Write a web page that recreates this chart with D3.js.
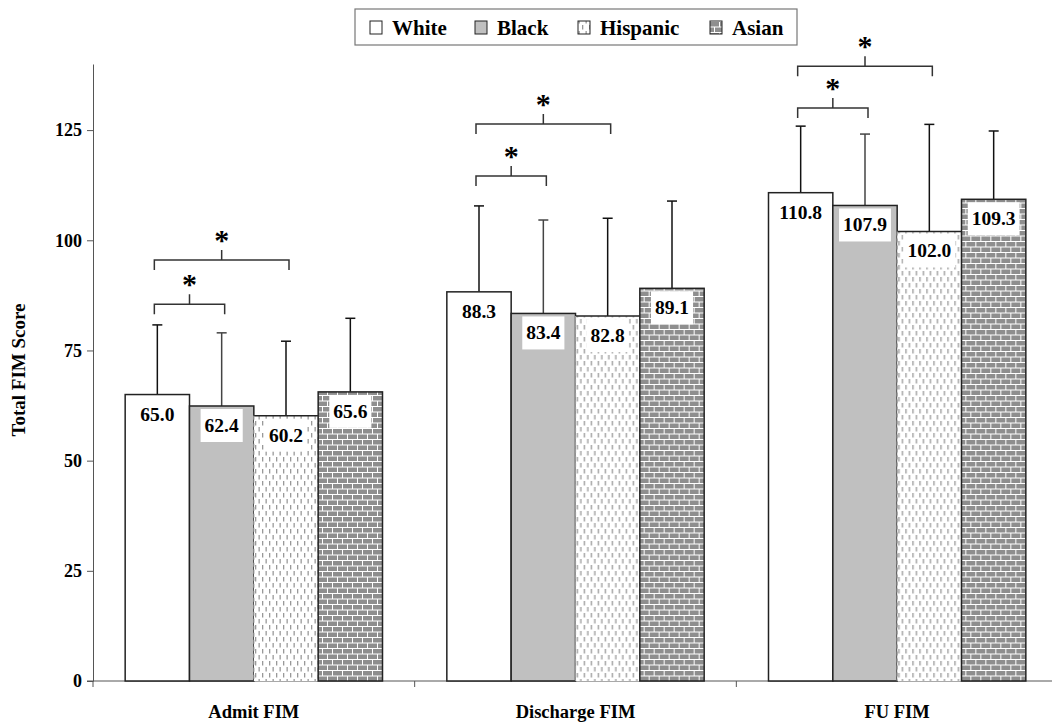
<!DOCTYPE html>
<html><head><meta charset="utf-8">
<script src="https://cdn.jsdelivr.net/npm/d3@7"></script>
<style>
body{margin:0;background:#fff;}
text{font-family:"Liberation Serif","Times New Roman",serif;font-weight:bold;}
</style></head>
<body><svg id="chart" width="1052" height="725"></svg>
<script>
const categories = ["Admit FIM", "Discharge FIM", "FU FIM"];
const series = ["White", "Black", "Hispanic", "Asian"];
const means = {
  White:    [65.0, 88.3, 110.8],
  Black:    [62.4, 83.4, 107.9],
  Hispanic: [60.2, 82.8, 102.0],
  Asian:    [65.6, 89.1, 109.3]
};
const sds = {
  White:    [15.8, 19.5, 15.1],
  Black:    [16.6, 21.2, 16.2],
  Hispanic: [16.9, 22.2, 24.3],
  Asian:    [16.7, 19.8, 15.5]
};
const yTicks = [0, 25, 50, 75, 100, 125];
// significance brackets: category index, from series, to series, level (data units)
const brackets = [
  {cat: 0, a: "White", b: "Black", level: 85.5},
  {cat: 0, a: "White", b: "Hispanic", level: 95.5},
  {cat: 1, a: "White", b: "Black", level: 114.6},
  {cat: 1, a: "White", b: "Hispanic", level: 126.4},
  {cat: 2, a: "White", b: "Black", level: 130.0},
  {cat: 2, a: "White", b: "Hispanic", level: 139.5}
];

const svg = d3.select("#chart");
const defs = svg.append("defs");

// Hispanic pattern: dashes
const ph = defs.append("pattern").attr("id","hisp").attr("patternUnits","userSpaceOnUse")
  .attr("width",7).attr("height",12);
ph.append("rect").attr("width",7).attr("height",12).attr("fill","#fff");
ph.append("rect").attr("x",1).attr("y",1).attr("width",1.3).attr("height",4.5).attr("fill","#999");
ph.append("rect").attr("x",4.5).attr("y",7).attr("width",1.3).attr("height",4.5).attr("fill","#999");

// Asian pattern: bricks
const pa = defs.append("pattern").attr("id","asian").attr("patternUnits","userSpaceOnUse")
  .attr("width",10).attr("height",11);
pa.append("rect").attr("width",10).attr("height",11).attr("fill","#fff");
pa.append("rect").attr("x",0).attr("y",0).attr("width",9).attr("height",4.5).attr("fill","#8e8e8e");
pa.append("rect").attr("x",-5).attr("y",5.5).attr("width",9).attr("height",4.5).attr("fill","#8e8e8e");
pa.append("rect").attr("x",5).attr("y",5.5).attr("width",9).attr("height",4.5).attr("fill","#8e8e8e");

const fills = {White:"#fff", Black:"#c0c0c0", Hispanic:"url(#hisp)", Asian:"url(#asian)"};

const y = d3.scaleLinear().domain([0,140]).range([681,64]);
const x0 = d3.scaleBand().domain(categories).range([93,1058]).padding(0);
const bw = x0.bandwidth();
const x1 = d3.scaleBand().domain(series).range([bw*0.1, bw*0.9]).padding(0);

// Y axis
const yAxis = svg.append("g").attr("transform","translate(93,0)")
  .call(d3.axisLeft(y).tickValues(yTicks).tickSize(6).tickSizeOuter(0).tickFormat(d3.format("d")));
yAxis.select(".domain").attr("stroke","#555");
yAxis.selectAll(".tick line").attr("stroke","#555");
yAxis.selectAll("text").attr("font-size",18).attr("fill","#000").attr("dx",-2);

// X axis
const xa = svg.append("g");
xa.append("line").attr("x1",87).attr("x2",1052).attr("y1",y(0)).attr("y2",y(0)).attr("stroke","#555");
categories.forEach((c,i)=>{
  xa.append("line").attr("x1",x0(c)).attr("x2",x0(c)).attr("y1",y(0)).attr("y2",y(0)+6).attr("stroke","#555");
  xa.append("text").attr("x",x0(c)+bw/2).attr("y",718).attr("text-anchor","middle")
    .attr("font-size",18.5).text(c);
});

// y title
svg.append("text").attr("transform","translate(25,370) rotate(-90)").attr("text-anchor","middle")
  .attr("font-size",19).text("Total FIM Score");

// bars
categories.forEach((c,ci)=>{
  const g = svg.append("g").attr("transform",`translate(${x0(c)},0)`);
  series.forEach(s=>{
    const v = means[s][ci], sd = sds[s][ci];
    const bx = x1(s), w = x1.bandwidth(), top = y(v);
    const cx = bx + w/2;
    // error bar
    const ecol = s==="Black" ? "#444" : "#111";
    g.append("line").attr("x1",cx).attr("x2",cx).attr("y1",top).attr("y2",y(v+sd)).attr("stroke",ecol).attr("stroke-width",1.5);
    g.append("line").attr("x1",cx-5).attr("x2",cx+5).attr("y1",y(v+sd)).attr("y2",y(v+sd)).attr("stroke",ecol).attr("stroke-width",1.5);
    g.append("rect").attr("x",bx).attr("y",top).attr("width",w).attr("height",y(0)-top)
      .attr("fill",fills[s]).attr("stroke", s==="Hispanic" ? "none" : "#222").attr("stroke-width",1.5);
    if (s==="Hispanic") {
      g.append("line").attr("x1",bx).attr("x2",bx+w).attr("y1",top).attr("y2",top).attr("stroke","#222").attr("stroke-width",1.5);
      [bx, bx+w].forEach(xx=>g.append("line").attr("x1",xx).attr("x2",xx).attr("y1",top).attr("y2",y(0))
        .attr("stroke","#999").attr("stroke-width",1.2).attr("stroke-dasharray","4,3"));
    }
    // label
    const lab = g.append("g");
    const t = lab.append("text").attr("x",cx).attr("y",top+26).attr("text-anchor","middle")
      .attr("font-size",19.5).text(d3.format(".1f")(v));
    const tw = t.node().getComputedTextLength();
    lab.insert("rect","text").attr("x",cx-tw/2-4).attr("y",top+3).attr("width",tw+8).attr("height",33).attr("fill","#fff");
  });
});

// brackets
brackets.forEach(b=>{
  const c = categories[b.cat];
  const xa_ = x0(c) + x1(b.a) + x1.bandwidth()/2 - 3;
  const xb_ = x0(c) + x1(b.b) + x1.bandwidth()/2 + 3;
  const yy = y(b.level);
  const mid = (xa_+xb_)/2;
  svg.append("path").attr("d",`M${xa_},${yy+10}V${yy}H${xb_}V${yy+10}M${mid},${yy}V${yy-10}`)
    .attr("fill","none").attr("stroke","#333").attr("stroke-width",1.5);
  svg.append("text").attr("x",mid).attr("y",yy-10).attr("text-anchor","middle").attr("font-size",30).text("*");
});

// legend
const lg = svg.append("g");
lg.append("rect").attr("x",355).attr("y",9).attr("width",442).attr("height",36).attr("fill","#fff").attr("stroke","#777").attr("stroke-width",1.2);
const lx = [370, 475, 578, 710];
series.forEach((s,i)=>{
  lg.append("rect").attr("x",lx[i]).attr("y",21).attr("width",12).attr("height",13).attr("fill",fills[s]).attr("stroke","#222").attr("stroke-width",1);
  lg.append("text").attr("x",lx[i]+22).attr("y",35).attr("font-size",21).text(s);
});
</script></body></html>
